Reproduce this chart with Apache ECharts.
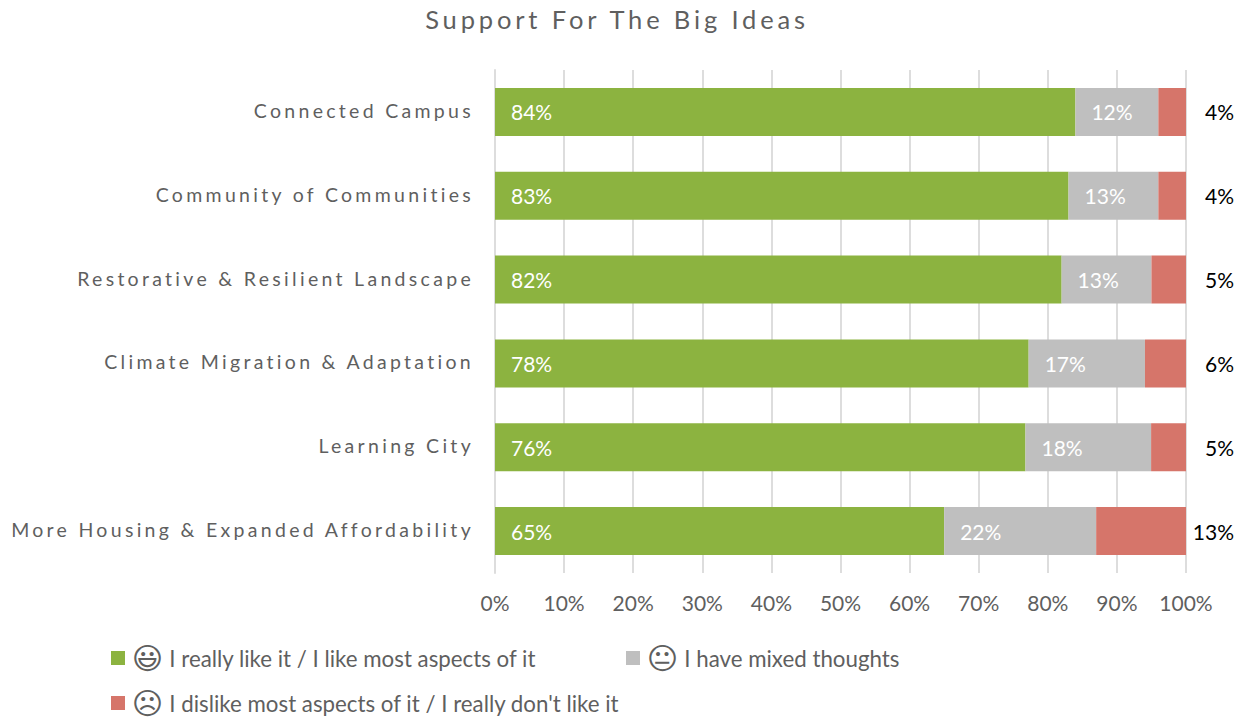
<!DOCTYPE html>
<html>
<head>
<meta charset="utf-8">
<style>
  html, body { margin: 0; padding: 0; background: #fff; }
  #chart { width: 1245px; height: 719px; }
  /* spaced lettering for the title and the idea names */
  #chart text[style*="25.5px"] { letter-spacing: 3.85px; }
  #chart text[style*="19.5px"] { letter-spacing: 3.3px; }
</style>
<script src="https://cdn.jsdelivr.net/npm/echarts@6/dist/echarts.min.js"></script>
</head>
<body>
<div id="chart"></div>
<script>
const chartTitle = 'Support For The Big Ideas';
const ideas = [
  'Connected Campus',
  'Community of Communities',
  'Restorative & Resilient Landscape',
  'Climate Migration & Adaptation',
  'Learning City',
  'More Housing & Expanded Affordability'
];
const likeValues = [84, 83, 82, 78, 76, 65];
const mixedValues = [12, 13, 13, 17, 18, 22];
const dislikeValues = [4, 4, 5, 6, 5, 13];
const likeName = 'I really like it / I like most aspects of it';
const mixedName = 'I have mixed thoughts';
const dislikeName = "I dislike most aspects of it / I really don't like it";
const faces = { [likeName]: '\u{1F603}', [mixedName]: '\u{1F610}', [dislikeName]: '\u2639' };

const FONT = 'Lato, "Open Sans", sans-serif';
const GREY_TEXT = '#5F5F5F';

// 100% stacking: each row is scaled by its own total, labels keep the stated figure
const rowTotals = ideas.map((_, i) => likeValues[i] + mixedValues[i] + dislikeValues[i]);
const shares = (values) => values.map((v, i) => ({ value: v / rowTotals[i] * 100, stated: v }));
const statedPercent = (p) => p.data.stated + '%';

const chart = echarts.init(document.getElementById('chart'), null, { renderer: 'svg' });

const legendFor = (name, left, top) => ({
  data: [name],
  left, top,
  icon: 'rect',
  itemWidth: 14,
  itemHeight: 14,
  formatter: (n) => '{face|' + faces[n] + '}{txt|' + n + '}',
  textStyle: {
    rich: {
      face: { fontFamily: '"DejaVu Sans"', fontSize: 30, color: GREY_TEXT, padding: [0, 6, 0, 2], lineHeight: 32 },
      txt: { fontFamily: FONT, fontSize: 22.3, color: GREY_TEXT, lineHeight: 32 }
    }
  }
});

chart.setOption({
  animation: false,
  backgroundColor: '#fff',
  title: {
    text: chartTitle,
    left: 612,
    top: 1,
    textAlign: 'center',
    textStyle: { fontFamily: FONT, fontSize: 25.5, fontWeight: 'normal', color: GREY_TEXT }
  },
  legend: [
    legendFor(likeName, 106, 638),
    legendFor(mixedName, 621, 638),
    legendFor(dislikeName, 106, 683)
  ],
  grid: { left: 495, top: 70, width: 691, height: 503, containLabel: false },
  xAxis: {
    type: 'value',
    min: 0,
    max: 100,
    interval: 10,
    axisLine: { show: false },
    axisTick: { show: false },
    splitLine: { show: true, lineStyle: { color: '#DDDDDD', width: 2 } },
    axisLabel: {
      formatter: '{value}%',
      fontFamily: FONT,
      fontSize: 21,
      color: GREY_TEXT,
      margin: 19
    }
  },
  yAxis: {
    type: 'category',
    inverse: true,
    data: ideas,
    axisLine: { show: true, lineStyle: { color: '#DDDDDD', width: 2 } },
    axisTick: { show: false },
    axisLabel: {
      formatter: '{idea|{value}}',
      margin: 21,
      rich: {
        idea: { fontFamily: FONT, fontSize: 19.5, color: GREY_TEXT, padding: [0, 0, 3, 0] }
      }
    }
  },
  series: [
    {
      name: likeName,
      type: 'bar',
      stack: 'share',
      barWidth: 48,
      data: shares(likeValues),
      itemStyle: { color: '#8CB340' },
      label: {
        show: true, position: 'insideLeft', distance: 16,
        formatter: statedPercent, fontFamily: FONT, fontSize: 21, color: '#fff'
      }
    },
    {
      name: mixedName,
      type: 'bar',
      stack: 'share',
      barWidth: 48,
      data: shares(mixedValues),
      itemStyle: { color: '#BFBFBF' },
      label: {
        show: true, position: 'insideLeft', distance: 16,
        formatter: statedPercent, fontFamily: FONT, fontSize: 21, color: '#fff'
      }
    },
    {
      name: dislikeName,
      type: 'bar',
      stack: 'share',
      barWidth: 48,
      data: shares(dislikeValues),
      itemStyle: { color: '#D6756A' },
      label: {
        show: true, position: 'right', distance: 48, align: 'right',
        formatter: statedPercent, fontFamily: FONT, fontSize: 21, color: '#000'
      }
    }
  ]
});
</script>
</body>
</html>
